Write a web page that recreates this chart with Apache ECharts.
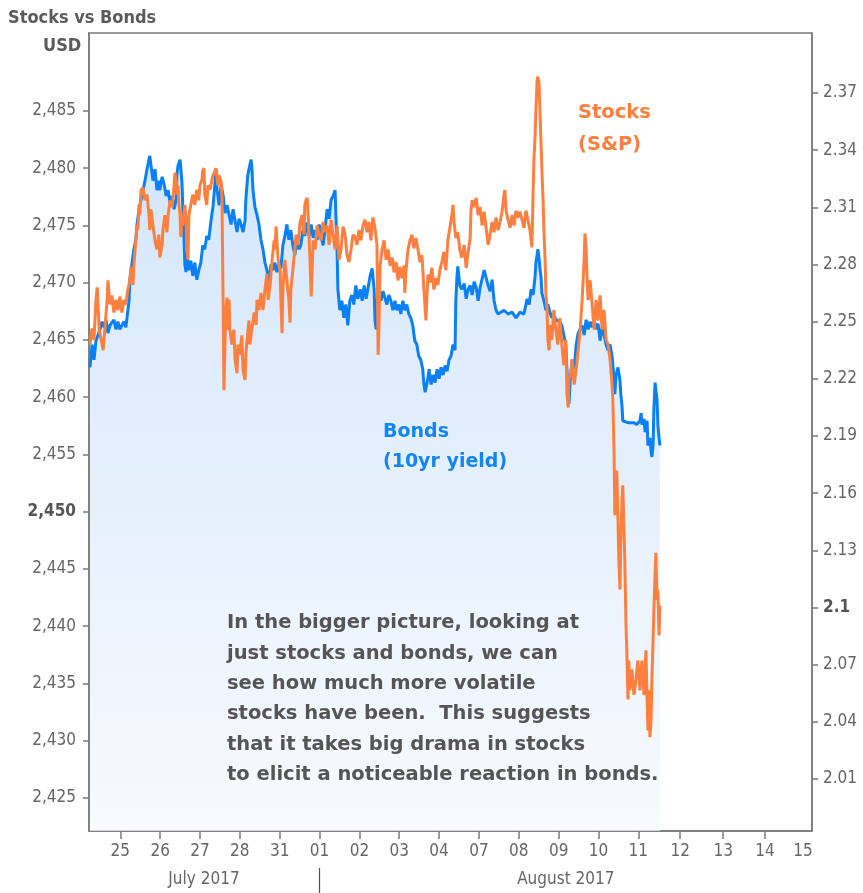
<!DOCTYPE html>
<html>
<head>
<meta charset="utf-8">
<script src="https://cdn.jsdelivr.net/npm/echarts@6/dist/echarts.min.js"></script>
<style>
html,body{margin:0;padding:0;background:#fff;}
#chart{width:863px;height:893px;}
</style>
</head>
<body>
<div id="chart"></div>
<script>
// ---- Data (x = trading-day index: 1 = Jul 25, 6 = Aug 01, 14 = Aug 11) ----
var dayTickPos = [1, 2, 3, 4, 5, 6, 7, 8, 9, 10, 11, 12, 13, 14, 15.05, 16.13, 17.18];
var dayLabelPos = [1, 2, 3, 4, 5, 6, 7, 8, 9, 10, 11, 12, 13, 14, 15.05, 16.13, 17.18, 18.13];
var dayLabels = ['25', '26', '27', '28', '31', '01', '02', '03', '04', '07', '08', '09', '10', '11', '12', '13', '14', '15'];
var monthBoundary = [6];
var monthLabelPos = [3.1, 12.18];
var monthLabels = ['July 2017', 'August 2017'];
var usdTicks = [2425, 2430, 2435, 2440, 2445, 2450, 2455, 2460, 2465, 2470, 2475, 2480, 2485];
var yieldTicks = [2.01, 2.04, 2.07, 2.1, 2.13, 2.16, 2.19, 2.22, 2.25, 2.28, 2.31, 2.34, 2.37];

// Stocks (S&P 500, USD) [day, value]
var stocks = [
[0.24,2464.6],[0.29,2466.0],[0.34,2465.0],[0.39,2468.5],[0.42,2469.6],[0.47,2465.9],[0.52,2465.0],[0.57,2464.1],
[0.62,2466.3],[0.67,2468.5],[0.69,2470.2],[0.74,2468.1],[0.79,2468.9],[0.84,2467.4],[0.89,2468.5],[0.94,2467.6],
[0.99,2468.8],[1.04,2467.4],[1.09,2468.5],[1.14,2468.1],[1.19,2469.4],[1.24,2470.2],[1.27,2471.4],[1.32,2469.8],
[1.34,2471.5],[1.39,2473.7],[1.42,2475.0],[1.44,2474.6],[1.47,2476.8],[1.49,2475.9],[1.52,2478.1],[1.57,2478.3],
[1.62,2477.2],[1.67,2477.7],[1.72,2475.9],[1.74,2474.6],[1.77,2476.4],[1.82,2475.0],[1.87,2473.7],[1.92,2472.9],
[1.97,2474.2],[1.99,2472.2],[2.05,2473.3],[2.07,2474.6],[2.12,2475.9],[2.17,2474.4],[2.20,2475.9],[2.25,2477.2],
[2.30,2476.6],[2.35,2478.5],[2.37,2479.6],[2.40,2479.0],[2.42,2477.7],[2.45,2478.5],[2.47,2476.8],[2.50,2475.9],
[2.52,2474.0],[2.55,2475.5],[2.57,2475.0],[2.62,2476.8],[2.65,2475.5],[2.67,2472.9],[2.70,2472.0],[2.72,2475.9],
[2.77,2476.8],[2.82,2477.7],[2.87,2476.8],[2.92,2478.1],[2.97,2477.2],[3.00,2478.5],[3.05,2479.0],[3.07,2479.8],
[3.10,2480.0],[3.12,2477.7],[3.17,2476.8],[3.20,2478.5],[3.25,2478.1],[3.30,2479.0],[3.33,2479.4],[3.38,2479.8],
[3.40,2480.0],[3.45,2478.5],[3.48,2479.4],[3.53,2478.8],[3.55,2477.7],[3.58,2468.5],[3.60,2460.6],[3.63,2465.0],
[3.65,2467.6],[3.68,2468.7],[3.70,2465.9],[3.73,2468.5],[3.75,2465.9],[3.80,2464.6],[3.85,2465.9],[3.88,2463.3],
[3.93,2462.1],[3.95,2464.6],[4.00,2463.7],[4.05,2465.4],[4.08,2462.4],[4.13,2461.5],[4.15,2463.7],[4.18,2465.0],
[4.23,2466.7],[4.25,2464.6],[4.30,2465.9],[4.36,2467.4],[4.41,2466.3],[4.43,2468.5],[4.48,2467.6],[4.53,2469.1],
[4.58,2467.6],[4.63,2469.4],[4.68,2470.8],[4.71,2468.5],[4.76,2469.8],[4.81,2472.0],[4.86,2473.7],[4.88,2472.9],
[4.91,2474.9],[4.93,2473.7],[4.96,2472.0],[5.01,2471.1],[5.03,2468.5],[5.06,2465.6],[5.08,2469.4],[5.13,2472.0],
[5.18,2470.2],[5.23,2468.5],[5.26,2466.5],[5.28,2469.4],[5.33,2471.1],[5.38,2472.9],[5.41,2474.2],[5.46,2473.3],
[5.51,2475.2],[5.56,2475.9],[5.61,2474.2],[5.63,2476.8],[5.66,2477.2],[5.69,2477.4],[5.71,2476.3],[5.74,2473.7],
[5.76,2472.0],[5.79,2468.8],[5.81,2470.7],[5.84,2473.7],[5.89,2472.9],[5.94,2475.0],[5.99,2474.2],[6.04,2473.7],
[6.09,2475.3],[6.14,2474.4],[6.19,2475.0],[6.24,2473.3],[6.29,2475.5],[6.34,2474.2],[6.39,2472.9],[6.44,2475.0],
[6.49,2472.0],[6.54,2472.9],[6.59,2474.9],[6.64,2474.2],[6.69,2472.4],[6.74,2471.8],[6.79,2472.9],[6.84,2474.2],
[6.89,2474.0],[6.94,2473.3],[6.99,2474.6],[7.04,2473.7],[7.09,2475.0],[7.14,2475.5],[7.19,2474.4],[7.24,2475.3],
[7.29,2473.7],[7.34,2475.7],[7.39,2474.8],[7.44,2473.3],[7.47,2463.7],[7.49,2465.9],[7.52,2471.5],[7.57,2472.9],
[7.62,2473.7],[7.67,2472.0],[7.72,2472.9],[7.77,2471.5],[7.82,2472.2],[7.87,2470.9],[7.92,2471.8],[7.97,2470.2],
[8.02,2471.4],[8.07,2470.4],[8.12,2471.5],[8.14,2469.1],[8.17,2471.1],[8.22,2472.9],[8.27,2473.7],[8.32,2474.2],
[8.37,2473.0],[8.42,2473.9],[8.47,2472.9],[8.52,2471.8],[8.57,2472.4],[8.62,2469.4],[8.67,2466.7],[8.72,2470.7],
[8.77,2470.0],[8.82,2471.3],[8.87,2469.4],[8.92,2470.4],[8.97,2469.8],[9.02,2471.1],[9.07,2471.8],[9.12,2472.7],
[9.17,2471.1],[9.22,2473.7],[9.27,2474.8],[9.32,2475.9],[9.35,2476.8],[9.37,2475.5],[9.42,2473.9],[9.47,2474.4],
[9.52,2472.9],[9.57,2472.2],[9.63,2473.3],[9.68,2471.3],[9.73,2472.7],[9.78,2473.9],[9.80,2476.3],[9.83,2477.2],
[9.88,2476.6],[9.93,2477.4],[9.98,2475.9],[10.03,2476.6],[10.08,2475.0],[10.13,2476.2],[10.18,2474.8],[10.23,2473.3],
[10.28,2474.2],[10.33,2475.3],[10.38,2474.4],[10.43,2475.7],[10.48,2474.6],[10.53,2475.3],[10.58,2476.2],[10.63,2477.7],
[10.65,2478.1],[10.68,2476.3],[10.73,2475.5],[10.78,2474.8],[10.83,2475.9],[10.88,2475.0],[10.93,2476.3],[10.98,2475.7],
[11.03,2476.2],[11.08,2475.5],[11.13,2474.8],[11.18,2476.3],[11.23,2475.5],[11.28,2474.6],[11.33,2473.1],[11.36,2478.1],
[11.38,2480.7],[11.41,2482.9],[11.43,2485.1],[11.46,2487.7],[11.48,2488.0],[11.51,2487.3],[11.53,2485.1],[11.56,2482.0],
[11.58,2479.8],[11.61,2477.2],[11.63,2474.6],[11.66,2472.0],[11.68,2469.1],[11.71,2467.6],[11.73,2465.0],[11.76,2464.1],
[11.78,2466.3],[11.83,2465.0],[11.88,2467.6],[11.93,2465.9],[11.98,2464.6],[12.03,2466.9],[12.08,2464.6],[12.13,2462.8],
[12.18,2465.0],[12.21,2460.2],[12.24,2459.1],[12.26,2461.9],[12.29,2461.7],[12.34,2463.3],[12.39,2461.1],[12.44,2462.4],
[12.49,2464.1],[12.54,2465.9],[12.59,2468.5],[12.64,2472.0],[12.66,2474.3],[12.69,2472.9],[12.71,2470.7],[12.74,2468.5],
[12.79,2470.2],[12.84,2468.1],[12.89,2465.9],[12.94,2468.5],[12.99,2466.7],[13.04,2468.9],[13.09,2465.9],[13.14,2467.6],
[13.19,2465.0],[13.24,2464.6],[13.29,2463.3],[13.34,2461.1],[13.36,2459.8],[13.39,2455.4],[13.41,2449.7],[13.44,2451.9],
[13.46,2453.6],[13.49,2449.3],[13.51,2445.8],[13.54,2443.2],[13.56,2447.5],[13.59,2451.0],[13.61,2452.3],[13.64,2448.4],
[13.66,2445.8],[13.69,2440.1],[13.71,2437.9],[13.74,2433.6],[13.76,2437.0],[13.79,2434.4],[13.84,2436.2],[13.89,2434.0],
[13.94,2435.3],[13.99,2437.0],[14.04,2434.4],[14.09,2437.0],[14.14,2434.0],[14.19,2437.9],[14.22,2433.6],[14.24,2430.9],
[14.27,2434.4],[14.29,2430.3],[14.32,2431.8],[14.34,2435.3],[14.37,2438.8],[14.39,2441.4],[14.42,2444.5],[14.44,2446.4],
[14.47,2442.3],[14.49,2443.2],[14.52,2439.2],[14.54,2441.8]
];

// Bonds (10yr yield, %) [day, value]
var bonds = [
[0.24,2.226],[0.29,2.238],[0.34,2.230],[0.39,2.240],[0.44,2.241],[0.49,2.246],[0.54,2.250],[0.59,2.247],
[0.64,2.251],[0.69,2.244],[0.74,2.248],[0.79,2.247],[0.84,2.251],[0.89,2.246],[0.94,2.250],[0.99,2.246],
[1.04,2.248],[1.09,2.250],[1.14,2.247],[1.19,2.256],[1.22,2.261],[1.24,2.272],[1.29,2.280],[1.34,2.288],
[1.39,2.293],[1.42,2.301],[1.47,2.309],[1.52,2.314],[1.57,2.319],[1.62,2.324],[1.67,2.330],[1.72,2.335],
[1.74,2.337],[1.77,2.332],[1.82,2.324],[1.87,2.330],[1.92,2.319],[1.97,2.324],[1.99,2.319],[2.05,2.326],
[2.10,2.322],[2.15,2.316],[2.20,2.319],[2.25,2.312],[2.30,2.316],[2.35,2.309],[2.40,2.314],[2.42,2.327],
[2.45,2.332],[2.50,2.335],[2.52,2.330],[2.55,2.322],[2.57,2.309],[2.60,2.293],[2.62,2.280],[2.65,2.276],
[2.67,2.285],[2.72,2.277],[2.77,2.282],[2.82,2.274],[2.87,2.281],[2.92,2.272],[2.97,2.277],[3.02,2.281],
[3.07,2.290],[3.12,2.288],[3.17,2.295],[3.22,2.293],[3.27,2.302],[3.33,2.311],[3.38,2.324],[3.40,2.330],
[3.43,2.319],[3.48,2.311],[3.53,2.322],[3.58,2.316],[3.63,2.307],[3.68,2.311],[3.73,2.306],[3.78,2.301],
[3.83,2.309],[3.88,2.303],[3.93,2.297],[3.98,2.304],[4.03,2.301],[4.08,2.297],[4.13,2.303],[4.15,2.314],
[4.20,2.327],[4.25,2.332],[4.28,2.335],[4.30,2.332],[4.33,2.319],[4.38,2.310],[4.43,2.306],[4.48,2.301],
[4.53,2.293],[4.58,2.288],[4.63,2.281],[4.68,2.277],[4.73,2.270],[4.78,2.280],[4.83,2.277],[4.88,2.281],
[4.93,2.276],[4.98,2.280],[5.03,2.278],[5.08,2.290],[5.13,2.295],[5.18,2.301],[5.23,2.293],[5.28,2.298],
[5.33,2.290],[5.38,2.285],[5.43,2.293],[5.48,2.288],[5.53,2.290],[5.58,2.298],[5.63,2.295],[5.68,2.302],
[5.74,2.295],[5.79,2.301],[5.84,2.294],[5.89,2.298],[5.94,2.293],[5.99,2.301],[6.04,2.295],[6.09,2.290],
[6.14,2.299],[6.19,2.309],[6.24,2.304],[6.29,2.314],[6.34,2.316],[6.39,2.319],[6.41,2.306],[6.44,2.288],
[6.46,2.267],[6.51,2.256],[6.56,2.261],[6.61,2.252],[6.66,2.259],[6.71,2.248],[6.76,2.261],[6.81,2.264],
[6.86,2.259],[6.91,2.269],[6.96,2.262],[7.02,2.267],[7.07,2.261],[7.12,2.269],[7.17,2.262],[7.22,2.268],
[7.27,2.274],[7.32,2.278],[7.37,2.267],[7.39,2.251],[7.42,2.246],[7.44,2.261],[7.49,2.264],[7.54,2.261],
[7.59,2.266],[7.64,2.267],[7.69,2.259],[7.74,2.264],[7.79,2.261],[7.84,2.256],[7.89,2.261],[7.94,2.256],
[7.99,2.259],[8.04,2.254],[8.09,2.261],[8.14,2.256],[8.19,2.259],[8.24,2.254],[8.29,2.252],[8.34,2.248],
[8.39,2.240],[8.44,2.238],[8.49,2.232],[8.54,2.230],[8.59,2.225],[8.62,2.217],[8.65,2.213],[8.70,2.218],
[8.75,2.225],[8.80,2.217],[8.85,2.222],[8.90,2.218],[8.95,2.225],[9.00,2.220],[9.05,2.226],[9.10,2.222],
[9.15,2.227],[9.20,2.224],[9.25,2.230],[9.30,2.232],[9.35,2.238],[9.40,2.235],[9.42,2.261],[9.45,2.274],
[9.47,2.279],[9.52,2.269],[9.57,2.267],[9.63,2.270],[9.68,2.262],[9.73,2.267],[9.78,2.269],[9.83,2.264],
[9.88,2.271],[9.93,2.268],[9.98,2.261],[10.03,2.268],[10.08,2.267],[10.13,2.277],[10.18,2.278],[10.23,2.269],
[10.28,2.266],[10.33,2.272],[10.38,2.261],[10.43,2.256],[10.48,2.254],[10.53,2.255],[10.63,2.256],[10.73,2.254],
[10.83,2.255],[10.93,2.252],[11.03,2.255],[11.13,2.254],[11.21,2.262],[11.26,2.259],[11.31,2.267],[11.36,2.264],
[11.41,2.274],[11.43,2.281],[11.46,2.285],[11.48,2.288],[11.51,2.283],[11.53,2.278],[11.56,2.273],[11.58,2.265],
[11.63,2.261],[11.68,2.256],[11.73,2.259],[11.78,2.255],[11.83,2.252],[11.88,2.254],[11.93,2.251],[11.98,2.252],
[12.03,2.250],[12.08,2.248],[12.13,2.243],[12.18,2.238],[12.21,2.225],[12.24,2.212],[12.26,2.207],[12.29,2.219],
[12.34,2.230],[12.39,2.225],[12.44,2.238],[12.49,2.244],[12.54,2.246],[12.59,2.248],[12.64,2.243],[12.69,2.251],
[12.74,2.246],[12.79,2.250],[12.84,2.247],[12.89,2.251],[12.94,2.246],[12.99,2.249],[13.04,2.240],[13.09,2.247],
[13.14,2.243],[13.19,2.238],[13.24,2.235],[13.29,2.238],[13.34,2.232],[13.36,2.228],[13.39,2.219],[13.41,2.212],
[13.44,2.222],[13.49,2.226],[13.54,2.219],[13.56,2.212],[13.59,2.206],[13.61,2.198],[13.66,2.197],[13.74,2.197],
[13.81,2.197],[13.89,2.197],[13.96,2.196],[14.04,2.198],[14.07,2.202],[14.09,2.196],[14.14,2.199],[14.17,2.192],
[14.22,2.198],[14.24,2.185],[14.29,2.189],[14.32,2.182],[14.34,2.179],[14.37,2.185],[14.39,2.204],[14.42,2.218],
[14.44,2.214],[14.47,2.209],[14.49,2.196],[14.52,2.189],[14.54,2.185]
];

// ---- Chart ----
var FONT = "'DejaVu Sans Condensed', 'DejaVu Sans', sans-serif";
var FONT_WIDE = "'DejaVu Sans', sans-serif";
var AXIS_COLOR = '#7a7a7a';
var TEXT_COLOR = '#666666';
var X_MIN = 0.2146, X_MAX = 18.358;

function pick(list, labels, v) {
  for (var i = 0; i < list.length; i++) { if (Math.abs(list[i] - v) < 1e-6) return labels[i]; }
  return '';
}

var chart = echarts.init(document.getElementById('chart'), null, {renderer: 'canvas'});
chart.setOption({
  animation: false,
  backgroundColor: '#ffffff',
  title: {
    text: 'Stocks vs Bonds', left: 3, top: 4,
    textStyle: {fontFamily: FONT, fontSize: 18, fontWeight: 'bold', color: '#5b5b5b'}
  },
  grid: {left: 89, right: 51, top: 33, bottom: 62, show: true, borderColor: AXIS_COLOR, borderWidth: 1.5},
  xAxis: [{
    type: 'value', min: X_MIN, max: X_MAX, position: 'bottom',
    splitLine: {show: false},
    axisLine: {lineStyle: {color: AXIS_COLOR, width: 1.5}},
    axisTick: {customValues: dayTickPos, length: 8, lineStyle: {color: AXIS_COLOR, width: 1.5}},
    axisLabel: {
      customValues: dayLabelPos, margin: 12, color: TEXT_COLOR, fontSize: 17, fontFamily: FONT,
      formatter: function (v) { return pick(dayLabelPos, dayLabels, v); }
    }
  }, {
    type: 'value', min: X_MIN, max: X_MAX, position: 'bottom', offset: 37,
    splitLine: {show: false},
    axisLine: {show: false},
    axisTick: {customValues: monthBoundary, length: 26, lineStyle: {color: '#555', width: 1.2}},
    axisLabel: {
      customValues: monthLabelPos, margin: 3, color: TEXT_COLOR, fontSize: 17, fontFamily: FONT,
      formatter: function (v) { return pick(monthLabelPos, monthLabels, v); }
    }
  }],
  yAxis: [{
    type: 'value', position: 'left', min: 2422.11, max: 2491.81,
    splitLine: {show: false},
    axisLine: {show: true, lineStyle: {color: AXIS_COLOR, width: 1.5}},
    axisTick: {show: true, customValues: usdTicks, length: 6, lineStyle: {color: AXIS_COLOR, width: 1.5}},
    axisLabel: {
      customValues: usdTicks, margin: 13, color: TEXT_COLOR, fontSize: 17, fontFamily: FONT,
      formatter: function (v) {
        var s = Math.round(v).toLocaleString('en-US');
        return v === 2450 ? '{b|' + s + '}' : s;
      },
      rich: {b: {fontWeight: 'bold', fontSize: 17, fontFamily: FONT, color: '#555'}}
    }
  }, {
    type: 'value', position: 'right', min: 1.98271, max: 2.40147,
    splitLine: {show: false},
    axisLine: {show: true, lineStyle: {color: AXIS_COLOR, width: 1.5}},
    axisTick: {show: true, customValues: yieldTicks, length: 6, lineStyle: {color: AXIS_COLOR, width: 1.5}},
    axisLabel: {
      customValues: yieldTicks, margin: 11, color: TEXT_COLOR, fontSize: 17, fontFamily: FONT,
      formatter: function (v) {
        return Math.abs(v - 2.1) < 1e-9 ? '{b|2.1}' : v.toFixed(2);
      },
      rich: {b: {fontWeight: 'bold', fontSize: 17, fontFamily: FONT, color: '#555'}}
    }
  }],
  series: [{
    name: 'Bonds (10yr yield)', type: 'line', yAxisIndex: 1, xAxisIndex: 0,
    data: bonds, showSymbol: false, symbol: 'none', z: 2,
    lineStyle: {color: '#0a80f5', width: 3},
    areaStyle: {
      origin: 'start',
      color: new echarts.graphic.LinearGradient(0, 0, 0, 1, [
        {offset: 0, color: '#c2dcf9'},
        {offset: 1, color: '#f4f8fe'}
      ])
    }
  }, {
    name: 'Stocks (S&P)', type: 'line', yAxisIndex: 0, xAxisIndex: 0,
    data: stocks, showSymbol: false, symbol: 'none', z: 3,
    lineStyle: {color: '#ff7f3f', width: 3}
  }],
  graphic: [{
    type: 'text', left: 43, top: 37, z: 100,
    style: {text: 'USD', fill: '#5b5b5b', font: 'bold 18px ' + FONT}
  }, {
    type: 'text', left: 578, top: 97, z: 100,
    style: {text: 'Stocks\n(S&P)', fill: '#ff7f3f', font: 'bold 19.5px ' + FONT_WIDE, lineHeight: 32}
  }, {
    type: 'text', left: 383, top: 417, z: 100,
    style: {text: 'Bonds\n(10yr yield)', fill: '#1485f2', font: 'bold 19px ' + FONT_WIDE, lineHeight: 30}
  }, {
    type: 'text', left: 227, top: 608, z: 100,
    style: {
      text: 'In the bigger picture, looking at\njust stocks and bonds, we can\nsee how much more volatile\nstocks have been.  This suggests\nthat it takes big drama in stocks\nto elicit a noticeable reaction in bonds.',
      fill: '#555555', font: 'bold 19.5px ' + FONT_WIDE, lineHeight: 30.4
    }
  }]
});
</script>
</body>
</html>
